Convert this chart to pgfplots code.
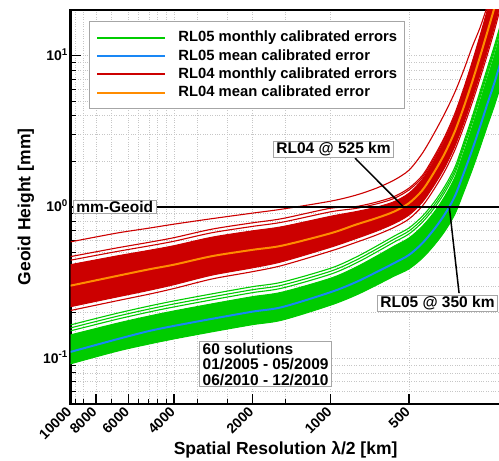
\documentclass[border=0pt]{standalone}
\usepackage{fontspec}
\setmainfont{Liberation Sans}
\usepackage{pgfplots}
\pgfplotsset{compat=1.18}
\usepackage{pgfplotstable}
\usepgfplotslibrary{fillbetween}

\definecolor{cgreen}{RGB}{0,204,0}
\definecolor{cblue}{RGB}{25,135,245}
\definecolor{cred}{RGB}{204,0,0}
\definecolor{corange}{RGB}{255,140,0}

\pgfplotstableread{
km B Gup Glo G1 G2 G3 O Rup Rlo R1 R2 R3 R4
10000 0.110 0.1425 0.0917 0.1659 0.1585 0.1515 0.3014 0.4150 0.2189 0.5870 0.4441 0.4690 0.2065
6667 0.133 0.1697 0.1108 0.1975 0.1887 0.1804 0.3488 0.4730 0.2533 0.6701 0.5061 0.5345 0.2390
5000 0.151 0.1897 0.1239 0.2208 0.2109 0.2017 0.3863 0.5157 0.2805 0.7232 0.5518 0.5827 0.2646
4000 0.1634 0.2052 0.1340 0.2389 0.2282 0.2181 0.4149 0.5539 0.3060 0.7685 0.5927 0.6259 0.2887
2857 0.182 0.2286 0.1493 0.2661 0.2542 0.2430 0.4723 0.6305 0.3538 0.8356 0.6746 0.7125 0.3338
2000 0.2029 0.2548 0.1664 0.2966 0.2833 0.2709 0.5197 0.6938 0.3952 0.9086 0.7424 0.7840 0.3728
1538 0.2174 0.2731 0.1783 0.3179 0.3037 0.2903 0.5541 0.7397 0.4342 0.9656 0.7915 0.8359 0.4096
1000 0.2730 0.3377 0.2240 0.3931 0.3755 0.3590 0.6691 0.8665 0.5409 1.0906 0.9272 0.9791 0.5103
800 0.3179 0.3993 0.2608 0.4648 0.4440 0.4245 0.7628 0.9299 0.6167 1.1948 0.9764 1.0043 0.5818
667 0.3702 0.4724 0.3037 0.5499 0.5253 0.5022 0.8421 0.9954 0.6908 1.3292 1.0452 1.0750 0.6517
571 0.4244 0.5496 0.3482 0.6397 0.6112 0.5842 0.9296 1.0821 0.7747 1.5014 1.1362 1.1687 0.7308
500 0.4810 0.6229 0.3889 0.7251 0.6926 0.6622 1.058 1.2315 0.8817 1.7482 1.2931 1.3300 0.8318
444 0.5756 0.7454 0.4583 0.8676 0.8289 0.7924 1.289 1.5236 1.0742 2.2637 1.5693 1.6150 1.0134
400 0.7121 0.9222 0.5581 1.0734 1.0255 0.9803 1.696 2.0352 1.3913 3.0695 2.0963 2.1573 1.3125
364 0.8950 1.1769 0.6911 1.3699 1.3087 1.2510 2.264 2.7598 1.8302 4.1629 2.8426 2.9254 1.7266
333 1.177 1.5713 0.8951 1.8290 1.7473 1.6703 3.165 3.9151 2.5199 5.7300 4.0326 4.1500 2.3773
308 1.670 2.2996 1.2509 2.6767 2.5572 2.4445 4.560 5.7274 3.5737 8.0090 5.8992 6.0710 3.3714
286 2.371 3.3644 1.7485 3.9162 3.7412 3.5764 6.672 8.5135 5.1521 11.360 8.7689 9.0243 4.8605
267 3.364 4.9215 2.4430 5.7286 5.4727 5.2316 9.759 12.638 7.4213 15.180 13.017 13.396 7.0012
250 4.773 7.0879 3.4142 8.2503 7.8817 7.5344 14.28 18.778 10.697 21.210 19.341 19.905 10.092
235 6.571 9.9091 4.6307 11.534 11.019 10.533 20.57 27.050 15.408 30.100 27.862 28.673 14.536
222.2 9.045 13.848 6.2769 16.119 15.399 14.720 29.60 38.924 22.172 42.710 40.092 41.259 20.917
}\data

\newcommand\tickfont{\fontsize{14}{16}\selectfont\bfseries}
\newcommand\labfont{\fontsize{17.5}{20}\selectfont\bfseries}
\newcommand\boxfont{\fontsize{15.5}{15.5}\selectfont\bfseries}

\begin{document}
\begin{tikzpicture}
\begin{axis}[
  name=ax,
  scale only axis, width=430pt, height=393.7pt,
  xmode=log, ymode=log, x dir=reverse,
  xmin=222.22, xmax=10000, ymin=0.05, ymax=20,
  axis line style={line width=2.2pt},
  tick align=inside, tick pos=left,
  xtick={10000,8000,6000,4000,2000,1000,500},
  xticklabels={10000,8000,6000,4000,2000,1000,500},
  minor xtick={9600,8950,7000,5500,5000,4650,4300,3250,2500,1500},
  ytick={0.1,1,10},
  yticklabels={{10\textsuperscript{-1}},{10\textsuperscript{0}},{10\textsuperscript{1}}},
  minor ytick={0.06,0.07,0.08,0.09,0.2,0.3,0.4,0.5,0.6,0.7,0.8,0.9,2,3,4,5,6,7,8,9},
  major tick length=10pt, minor tick length=5pt,
  every major tick/.append style={line width=1.6pt, black},
  every minor tick/.append style={line width=0.8pt, black},
  grid=both,
  major grid style={gray!45, dotted, line width=0.6pt},
  minor grid style={gray!45, dotted, line width=0.6pt},
  xticklabel style={font=\tickfont, xshift=-1.4pt, yshift=-5.5pt, rotate=45, anchor=east, inner sep=0pt},
  yticklabel style={font=\tickfont, xshift=-2.5pt, yshift=-5pt, anchor=base east, inner sep=0pt},
  xlabel={Spatial Resolution λ/2 [km]},
  ylabel={Geoid Height [mm]},
  every axis x label/.style={at={(axis description cs:0.5,0)}, yshift=-46.5pt, anchor=center, font=\labfont},
  every axis y label/.style={at={(axis description cs:0,0.5)}, xshift=-44.6pt, rotate=90, anchor=center, font=\labfont},
  legend style={at={(0.0428,0.9708)}, anchor=north west, draw=gray!70, line width=0.8pt, fill=white,
    inner xsep=7pt, inner ysep=7pt, row sep=0pt,
    font=\fontsize{14.8}{17}\selectfont\bfseries,
    nodes={inner xsep=0pt, inner ysep=2pt, text height=11pt, text depth=3.2pt}},
  legend cell align=left,
  legend image code/.code={\draw[#1] (0pt,0pt) -- (68pt,0pt); \draw[draw=none] (68pt,0pt) -- (81pt,0pt);},
  every axis plot/.append style={smooth, tension=0.5},
]
\addlegendimage{cgreen, line width=2pt, sharp plot}
\addlegendentry{RL05 monthly calibrated errors}
\addlegendimage{cblue, line width=2pt, sharp plot}
\addlegendentry{RL05 mean calibrated error}
\addlegendimage{cred, line width=2pt, sharp plot}
\addlegendentry{RL04 monthly calibrated errors}
\addlegendimage{corange, line width=2pt, sharp plot}
\addlegendentry{RL04 mean calibrated error}

% RL04 monthly band
\addplot[name path=rup, cred, line width=1pt, forget plot] table[x=km, y=Rup] {\data};
\addplot[name path=rlo, cred, line width=1pt, forget plot] table[x=km, y=Rlo] {\data};
\addplot[cred, draw=none, forget plot] fill between[of=rup and rlo];
\addplot[cred, line width=1.1pt, forget plot] table[x=km, y=R2] {\data};
\addplot[cred, line width=1.1pt, forget plot] table[x=km, y=R3] {\data};
\addplot[cred, line width=1.1pt, forget plot] table[x=km, y=R4] {\data};
\addplot[cred, line width=1.1pt, forget plot] table[x=km, y=R1] {\data};
\addplot[corange, line width=2pt, forget plot] table[x=km, y=O] {\data};

% RL05 monthly band
\addplot[name path=gup, cgreen, line width=1pt, forget plot] table[x=km, y=Gup] {\data};
\addplot[name path=glo, cgreen, line width=1pt, forget plot] table[x=km, y=Glo] {\data};
\addplot[cgreen, draw=none, forget plot] fill between[of=gup and glo];
\addplot[cgreen, line width=1.1pt, forget plot] table[x=km, y=G1] {\data};
\addplot[cgreen, line width=1.1pt, forget plot] table[x=km, y=G2] {\data};
\addplot[cgreen, line width=1.1pt, forget plot] table[x=km, y=G3] {\data};
\addplot[cblue, line width=2pt, forget plot] table[x=km, y=B] {\data};

% mm-Geoid line
\addplot[black, line width=2pt, forget plot, sharp plot] coordinates {(10000,1) (222.22,1)};

\tikzset{annbox/.style={draw=gray!70, line width=0.8pt, fill=white, inner xsep=3pt, inner ysep=1.2pt, font=\boxfont}}
\node[annbox, anchor=west] at (axis cs:9790,1) {mm-Geoid};
\draw[black, line width=1.5pt] (axis cs:525,1) -- (axis cs:806,2.099);
\node[annbox] at (axis cs:975,2.406) {RL04 @ 525 km};
\draw[black, line width=1.5pt] (axis cs:350,1) -- (axis cs:321,0.269);
\node[annbox] at (axis cs:388.6,0.2309) {RL05 @ 350 km};
\node[annbox, anchor=west, align=left] at (axis cs:3200,0.0912) {60 solutions\\01/2005 - 05/2009\\06/2010 - 12/2010};
\end{axis}
\pgfresetboundingbox
\path[use as bounding box] ([shift={(-70.6pt,-57.3pt)}]ax.south west) rectangle ([shift={(-1.6pt,10pt)}]ax.north east);
\end{tikzpicture}
\end{document}
